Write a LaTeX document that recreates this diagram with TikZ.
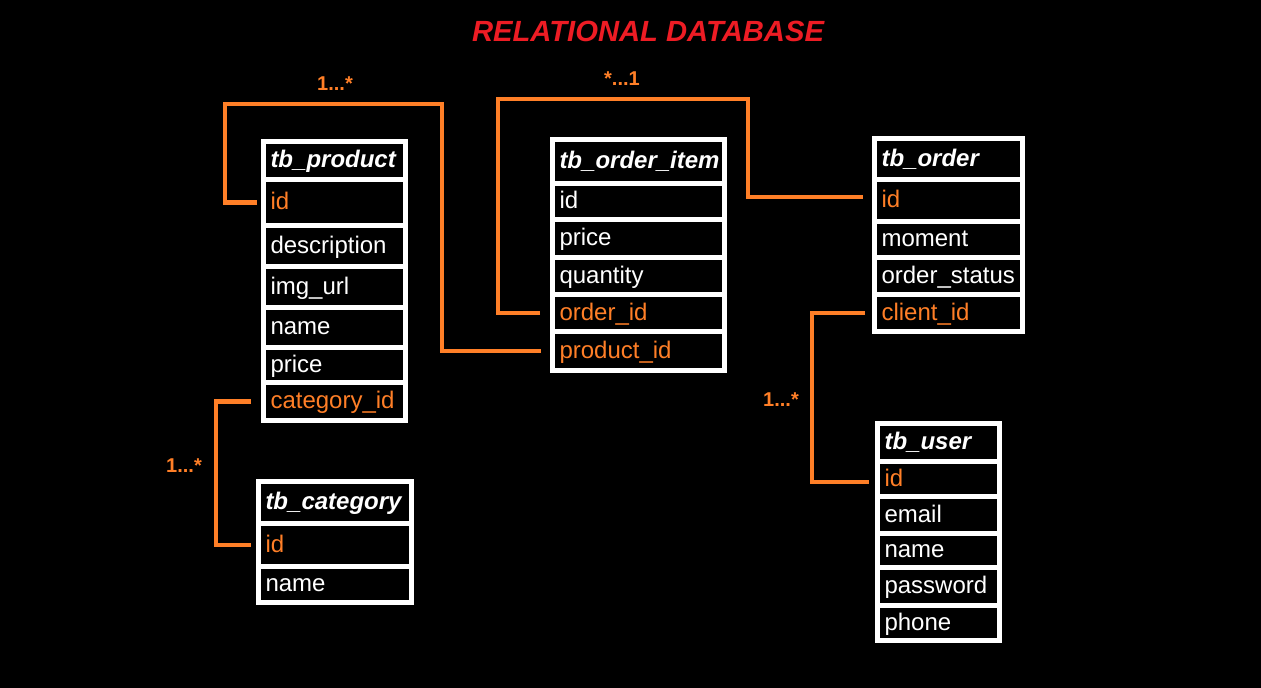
\documentclass[tikz,border=0pt]{standalone}
\usepackage{fontspec}
\setmainfont{Liberation Sans}
\usetikzlibrary{positioning}
\definecolor{relorange}{HTML}{FF7F27}
\definecolor{titlered}{HTML}{ED1C24}
\tikzset{
	cell/.style={draw=white, fill=black, line width=5pt, outer sep=0pt, inner xsep=7pt, inner ysep=0pt,
		align=left, text height=19pt, text depth=5pt, text=white, font=\fontsize{24}{28}\selectfont},
	keycell/.style={cell, text=relorange},
	headcell/.style={cell, font=\fontsize{24}{28}\selectfont\bfseries\itshape},
	link/.style={draw=relorange, line width=4.5pt},
	card/.style={text=relorange, font=\fontsize{20}{24}\selectfont\bfseries},
}

\begin{document}
\begin{tikzpicture}[x=1pt, y=-1pt, node distance=0pt]
			%%%%% START %%%%%
			
			\path[use as bounding box, fill=black] (0,0) rectangle (1261,688);
			
			\node[font=\fontsize{29.2}{33}\selectfont\bfseries\itshape, text=titlered] (title) at (648,31) {RELATIONAL DATABASE};
			
			% tb_product
			\begin{scope}[every node/.append style={text width=128pt}]
			\node[headcell, minimum height=38pt] (p_head) at (334.5,160.5) {tb\_product};
			\node[keycell, minimum height=46pt, below=of p_head] (p_id) {id};
			\node[cell, minimum height=41pt, below=of p_id] (p_desc) {description};
			\node[cell, minimum height=41pt, below=of p_desc] (p_img) {img\_url};
			\node[cell, minimum height=40pt, below=of p_img] (p_name) {name};
			\node[cell, minimum height=35pt, below=of p_name] (p_price) {price};
			\node[keycell, minimum height=38pt, below=of p_price] (p_cat) {category\_id};
			\end{scope}
			
			% tb_order_item
			\begin{scope}[every node/.append style={text width=158pt}]
			\node[headcell, minimum height=44pt] (oi_head) at (638.5,161.5) {tb\_order\_item};
			\node[cell, minimum height=36pt, below=of oi_head] (oi_id) {id};
			\node[cell, minimum height=38pt, below=of oi_id] (oi_price) {price};
			\node[cell, minimum height=37pt, below=of oi_price] (oi_qty) {quantity};
			\node[keycell, minimum height=37pt, below=of oi_qty] (oi_order) {order\_id};
			\node[keycell, minimum height=39pt, below=of oi_order] (oi_product) {product\_id};
			\end{scope}
			
			% tb_order
			\begin{scope}[every node/.append style={text width=134pt}]
			\node[headcell, minimum height=41pt] (o_head) at (948.5,159) {tb\_order};
			\node[keycell, minimum height=42pt, below=of o_head] (o_id) {id};
			\node[cell, minimum height=36pt, below=of o_id] (o_moment) {moment};
			\node[cell, minimum height=37pt, below=of o_moment] (o_status) {order\_status};
			\node[keycell, minimum height=37pt, below=of o_status] (o_client) {client\_id};
			\end{scope}
			
			% tb_user
			\begin{scope}[every node/.append style={text width=108pt}]
			\node[headcell, minimum height=38pt] (u_head) at (938.5,442.5) {tb\_user};
			\node[keycell, minimum height=35pt, below=of u_head] (u_id) {id};
			\node[cell, minimum height=37pt, below=of u_id] (u_email) {email};
			\node[cell, minimum height=34pt, below=of u_email] (u_name) {name};
			\node[cell, minimum height=38pt, below=of u_name] (u_pass) {password};
			\node[cell, minimum height=35pt, below=of u_pass] (u_phone) {phone};
			\end{scope}
			
			% tb_category
			\begin{scope}[every node/.append style={text width=139pt}]
			\node[headcell, minimum height=42pt] (c_head) at (335,502.5) {tb\_category};
			\node[keycell, minimum height=43pt, below=of c_head] (c_id) {id};
			\node[cell, minimum height=36pt, below=of c_id] (c_name) {name};
			\end{scope}
			
			% relations
			\draw[link] ([xshift=-6.5pt]p_id.west) -- ++(-32,0) |- (442,104) |- ([xshift=-11.5pt]oi_product.west);
			\draw[link] ([xshift=-12.5pt]oi_order.west) -- ++(-42,0) |- (748,99) |- ([xshift=-11.5pt,yshift=3.5pt]o_id.west);
			\draw[link] ([xshift=-9.5pt]o_client.west) -- ++(-53,0) |- ([xshift=-8.5pt,yshift=-3pt]u_id.west);
			\draw[link] ([xshift=-12.5pt]p_cat.west) -- ++(-35,0) |- ([xshift=-7.5pt]c_id.west);
			
			\node[card] (card_pr) at (335,84) {1...*};
			\node[card] (card_or) at (622,79) {*...1};
			\node[card] (card_cl) at (781,400) {1...*};
			\node[card] (card_ca) at (184,466) {1...*};
			
			%%%%% END %%%%%
\end{tikzpicture}
\end{document}
